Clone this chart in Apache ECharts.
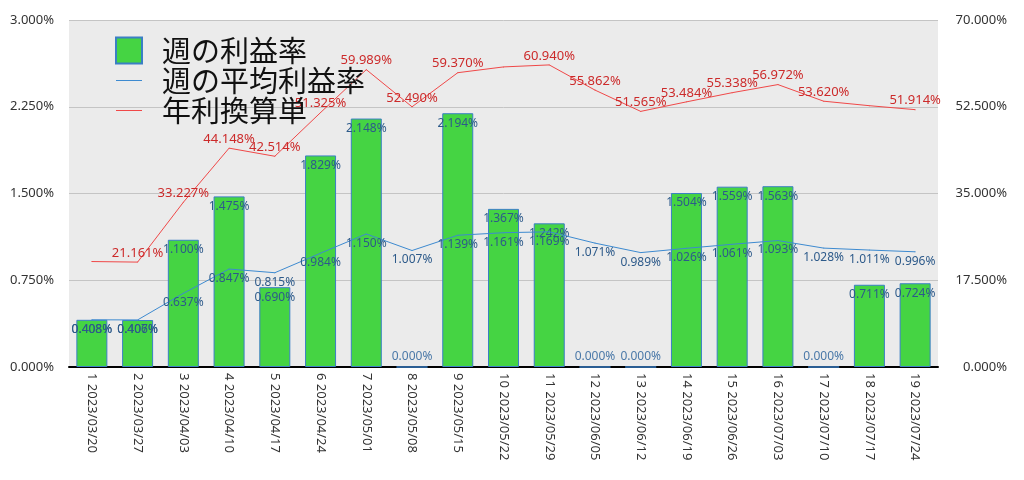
<!DOCTYPE html>
<html><head><meta charset="utf-8">
<script src="https://cdn.jsdelivr.net/npm/echarts@6/dist/echarts.min.js"></script>
<style>html,body{margin:0;padding:0;background:#fff}#c{width:1024px;height:480px}</style>
</head><body><div id="c"></div>
<script>
const weekNo = ['1','2','3','4','5','6','7','8','9','10','11','12','13','14','15','16','17','18','19'];
const weekDates = ['2023/03/20','2023/03/27','2023/04/03','2023/04/10','2023/04/17','2023/04/24','2023/05/01','2023/05/08','2023/05/15','2023/05/22','2023/05/29','2023/06/05','2023/06/12','2023/06/19','2023/06/26','2023/07/03','2023/07/10','2023/07/17','2023/07/24'];
const weeklyRate = [0.408,0.406,1.100,1.475,0.690,1.829,2.148,0.000,2.194,1.367,1.242,0.000,0.000,1.504,1.559,1.563,0.000,0.711,0.724];
const avgRate = [0.408,0.407,0.637,0.847,0.815,0.984,1.150,1.007,1.139,1.161,1.169,1.071,0.989,1.026,1.061,1.093,1.028,1.011,0.996];
const annualRate = [21.273,21.161,33.227,44.148,42.514,51.325,59.989,52.490,59.370,60.535,60.940,55.862,51.565,53.484,55.338,56.972,53.620,52.714,51.914];
const hiddenAnnualLabels = [0,9,17];
const seriesNames = ['週の利益率','週の平均利益率','年利換算単'];
const leftTicks = {min:0,max:3,interval:0.75};
const rightTicks = {min:0,max:70,interval:17.5};

const categories = weekNo.map((n,i)=>n+' '+weekDates[i]);
const FONT = '"Noto Sans", "Noto Sans CJK JP", sans-serif';
const CJK = '"Noto Sans CJK JP", sans-serif';
const pct = d => d.toFixed(3)+'%';

const chart = echarts.init(document.getElementById('c'));
chart.setOption({
  animation:false,
  textStyle:{fontFamily:FONT},
  legend:{
    orient:'vertical', left:110, top:31, itemWidth:26, itemHeight:26, itemGap:1,
    symbolKeepAspect:true,
    textStyle:{fontSize:29, color:'#111', fontFamily:CJK, padding:[0,0,0,15], lineHeight:26},
    data:[
      {name:seriesNames[0], icon:'rect'},
      {name:seriesNames[1], icon:'path://M0,0H40V1.6H0Z'},
      {name:seriesNames[2], icon:'path://M0,0H40V1.6H0Z'}
    ]
  },
  grid:{left:69, right:86, top:20, bottom:113, show:true, backgroundColor:'#ebebeb', borderWidth:0},
  xAxis:{
    type:'category', data:categories,
    axisLine:{lineStyle:{color:'#000', width:2}},
    axisTick:{show:false},
    axisLabel:{rotate:-90, color:'#333', fontSize:13, margin:6, interval:0, fontFamily:FONT}
  },
  yAxis:[
    {type:'value', min:leftTicks.min, max:leftTicks.max, interval:leftTicks.interval,
     axisLine:{show:false}, axisTick:{show:false},
     splitLine:{lineStyle:{color:'#c4c4c4', width:1}},
     axisLabel:{formatter:v=>v.toFixed(3)+'%', color:'#333', fontSize:13, margin:15}},
    {type:'value', min:rightTicks.min, max:rightTicks.max, interval:rightTicks.interval,
     axisLine:{show:false}, axisTick:{show:false}, splitLine:{show:false},
     axisLabel:{formatter:v=>v.toFixed(3)+'%', color:'#333', fontSize:13, margin:69, align:'right'}}
  ],
  series:[
    {name:seriesNames[0], type:'bar', yAxisIndex:0, barWidth:31,
     itemStyle:{color:'#45d443', borderColor:'#3a7fc4', borderWidth:1},
     data:weeklyRate.map(v=>v===0?{value:v,label:{position:'top',distance:4,color:'#4a78a8'}}:v),
     label:{show:true, position:'insideTop', distance:4, color:'#2d5a8a', fontSize:12, formatter:p=>pct(p.value)}},
    {name:seriesNames[1], type:'line', yAxisIndex:0, data:avgRate,
     symbol:'circle', symbolSize:1,
     lineStyle:{color:'#3d8ad0', width:1}, itemStyle:{color:'#3d8ad0'},
     label:{show:true, position:'bottom', distance:3, color:'#2d5a8a', fontSize:12, formatter:p=>pct(p.value)}},
    {name:seriesNames[2], type:'line', yAxisIndex:1, data:annualRate,
     symbol:'circle', symbolSize:1,
     lineStyle:{color:'#f04848', width:1}, itemStyle:{color:'#f04848'},
     label:{show:true, position:'top', distance:2, color:'#cc2a2a', fontSize:13,
       formatter:p=>hiddenAnnualLabels.includes(p.dataIndex)?'':pct(p.value)}}
  ]
});
</script></body></html>
